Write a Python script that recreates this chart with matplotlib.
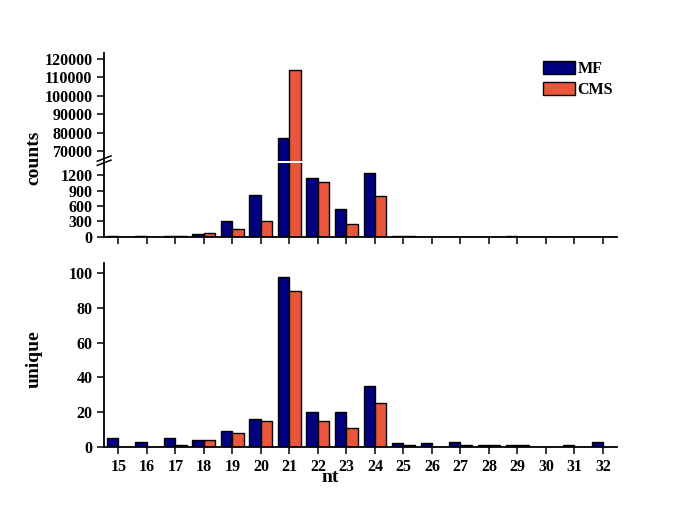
import numpy as np
import matplotlib
matplotlib.use("Agg")
import matplotlib.pyplot as plt
from matplotlib.lines import Line2D

plt.rcParams['font.family'] = ['Liberation Serif', 'DejaVu Serif']
plt.rcParams['font.weight'] = 'bold'

nt = np.arange(15, 33)
counts_mf = [20, 10, 15, 45, 300, 820, 77200, 1150, 540, 1250, 20, 5, 3, 0, 15, 0, 0, 5]
counts_cms = [5, 5, 15, 80, 150, 300, 114000, 1070, 250, 800, 10, 3, 3, 0, 5, 0, 0, 0]
unique_mf = [5, 3, 5, 4, 9, 16, 98, 20, 20, 35, 2, 2, 3, 1, 1, 0, 1, 3]
unique_cms = [0, 0, 1, 4, 8, 15, 90, 15, 11, 25, 1, 0, 1, 1, 1, 0, 0, 0]

c_mf = '#00007f'
c_cms = '#e8563c'
w = 0.4

fig = plt.figure(figsize=(6.85, 5.25), dpi=100)
left, width = 0.152, 0.749
ax_hi = fig.add_axes([left, 0.693, width, 0.206])
ax_lo = fig.add_axes([left, 0.549, width, 0.140])
ax_un = fig.add_axes([left, 0.149, width, 0.350])


def style(ax):
    for s in ['top', 'right']:
        ax.spines[s].set_visible(False)
    for s in ['left', 'bottom']:
        ax.spines[s].set_linewidth(1.3)
    ax.tick_params(direction='out', length=5, width=1.1, labelsize=11.5)
    ax.set_xlim(14.5, 32.5)
    ax.set_xticks(nt)


for ax in (ax_hi, ax_lo):
    ax.bar(nt - w, counts_mf, w, align='edge', color=c_mf, edgecolor='black', linewidth=1, label='MF')
    ax.bar(nt, counts_cms, w, align='edge', color=c_cms, edgecolor='black', linewidth=1, label='CMS')
    style(ax)

ax_hi.set_ylim(64600, 123000)
ax_hi.set_yticks(np.arange(70000, 120001, 10000))
ax_hi.spines['bottom'].set_visible(False)
ax_hi.tick_params(axis='x', bottom=False, labelbottom=False)

ax_lo.set_ylim(0, 1430)
ax_lo.set_yticks([0, 300, 600, 900, 1200])
ax_lo.tick_params(axis='x', labelbottom=False)

ax_un.bar(nt - w, unique_mf, w, align='edge', color=c_mf, edgecolor='black', linewidth=1)
ax_un.bar(nt, unique_cms, w, align='edge', color=c_cms, edgecolor='black', linewidth=1)
style(ax_un)
ax_un.set_ylim(0, 106)
ax_un.set_yticks([0, 20, 40, 60, 80, 100])
ax_un.set_xlabel('nt', fontsize=14, fontweight='bold')
ax_un.xaxis.set_label_coords(0.44, -0.12)

# break marks on the left spine
for dy in (0.0, 0.008):
    y0 = 0.685 + dy
    fig.add_artist(Line2D([0.142, 0.162], [y0, y0 + 0.01], color='black', lw=1.1))

fig.text(0.05, 0.70, 'counts', rotation=90, ha='center', va='center', fontsize=14, fontweight='bold')
fig.text(0.05, 0.315, 'unique', rotation=90, ha='center', va='center', fontsize=14, fontweight='bold')

ax_hi.legend(loc='upper right', bbox_to_anchor=(0.904, 0.896), bbox_transform=fig.transFigure,
             frameon=False, fontsize=11.5, handlelength=2.0, handleheight=0.85,
             handletextpad=0.15, labelspacing=0.3, borderaxespad=0)

fig.savefig('out.png', dpi=100)
